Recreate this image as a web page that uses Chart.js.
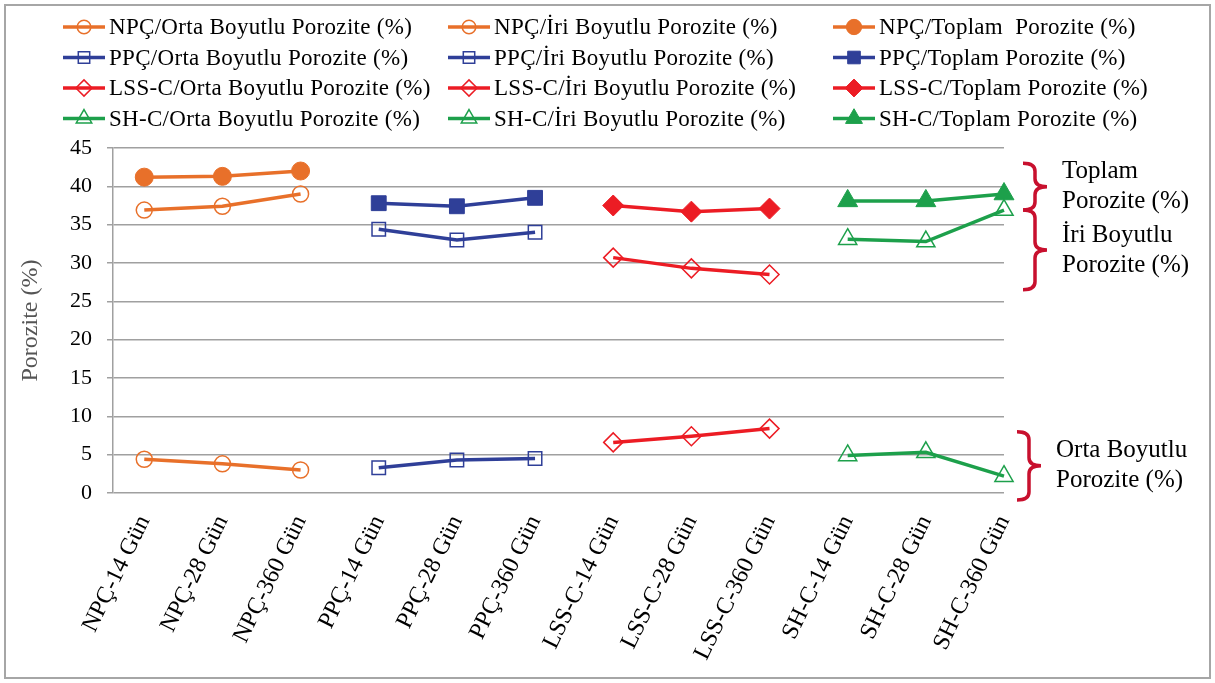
<!DOCTYPE html>
<html lang="tr">
<head>
  <meta charset="UTF-8">
  <title>Porozite</title>
  <script src="https://cdn.jsdelivr.net/npm/chart.js"></script>
  <style>
    html, body { margin: 0; padding: 0; background: #fff; }
    #frame {
      position: absolute; left: 4px; top: 4px;
      width: 1207px; height: 675px;
      border: 2px solid #a6a6a6; box-sizing: border-box;
    }
    canvas { display: block; }
  </style>
</head>
<body>
  <div id="frame"><canvas id="poroChart"></canvas></div>

  <script>
    const categories = [
      'NPÇ-14 Gün', 'NPÇ-28 Gün', 'NPÇ-360 Gün',
      'PPÇ-14 Gün', 'PPÇ-28 Gün', 'PPÇ-360 Gün',
      'LSS-C-14 Gün', 'LSS-C-28 Gün', 'LSS-C-360 Gün',
      'SH-C-14 Gün', 'SH-C-28 Gün', 'SH-C-360 Gün'
    ];
    const yTicks = [0, 5, 10, 15, 20, 25, 30, 35, 40, 45];

    // values per mix (14, 28, 360 gün)
    const npcOrta = [4.4, 3.8, 3.0];
    const npcIri = [36.9, 37.4, 39.0];
    const npcToplam = [41.2, 41.3, 42.0];
    const ppcOrta = [3.3, 4.3, 4.5];
    const ppcIri = [34.4, 33.0, 34.0];
    const ppcToplam = [37.8, 37.4, 38.5];
    const lssOrta = [6.6, 7.4, 8.4];
    const lssIri = [30.7, 29.3, 28.5];
    const lssToplam = [37.5, 36.7, 37.1];
    const shOrta = [4.9, 5.3, 2.2];
    const shIri = [33.1, 32.8, 36.9];
    const shToplam = [38.1, 38.1, 39.0];

    const groups = [
      { name: 'NPÇ', color: '#e8702a', style: 'circle', series: [npcOrta, npcIri, npcToplam] },
      { name: 'PPÇ', color: '#2f3f98', style: 'rect', series: [ppcOrta, ppcIri, ppcToplam] },
      { name: 'LSS-C', color: '#ec1c24', style: 'rectRot', series: [lssOrta, lssIri, lssToplam] },
      { name: 'SH-C', color: '#1da04b', style: 'triangle', series: [shOrta, shIri, shToplam] }
    ];
    const seriesNames = ['Orta Boyutlu Porozite (%)', 'İri Boyutlu Porozite (%)', 'Toplam Porozite (%)'];

    // bracket notes on the right
    const notes = [
      { from: 43.0, to: 36.9, lines: ['Toplam', 'Porozite (%)'] },
      { from: 36.9, to: 26.5, lines: ['İri Boyutlu', 'Porozite (%)'] },
      { from: 8.0, to: -0.9, lines: ['Orta Boyutlu', 'Porozite (%)'] }
    ];

    const radii = { circle: 8, rect: 9.5, rectRot: 9.5, triangle: 10.5 };

    const datasets = [];
    groups.forEach((g, gi) => {
      g.series.forEach((vals, si) => {
        const filled = si === 2;
        let label = g.name + '/' + seriesNames[si];
        if (gi === 0 && si === 2) label = 'NPÇ/Toplam  Porozite (%)';
        datasets.push({
          label: label,
          data: vals.map((v, k) => ({ x: gi * 3 + k, y: v })),
          borderColor: g.color,
          borderWidth: 3.5,
          pointStyle: g.style,
          pointRadius: filled ? radii[g.style] + 1 : radii[g.style],
          pointBorderWidth: filled ? 1 : 1.5,
          pointBorderColor: g.color,
          pointBackgroundColor: filled ? g.color : 'rgba(0,0,0,0)',
          tension: 0,
          clip: false
        });
      });
    });

    const legendGrid = {
      id: 'legendGrid',
      afterDraw(chart) {
        const ctx = chart.ctx;
        const colX = [57, 442, 827];
        chart.data.datasets.forEach((ds, i) => {
          const x = colX[i % 3];
          const y = 21 + Math.floor(i / 3) * 30.5;
          ctx.save();
          ctx.strokeStyle = ds.borderColor;
          ctx.lineWidth = 3.5;
          ctx.beginPath();
          ctx.moveTo(x, y);
          ctx.lineTo(x + 42, y);
          ctx.stroke();
          ctx.lineWidth = ds.pointBorderWidth;
          ctx.fillStyle = ds.pointBackgroundColor;
          Chart.helpers.drawPoint(ctx, {
            pointStyle: ds.pointStyle,
            radius: ds.pointRadius * 0.85,
            rotation: 0,
            borderWidth: ds.pointBorderWidth
          }, x + 21, y);
          ctx.fillStyle = '#000';
          ctx.font = '23px "Liberation Serif"';
          ctx.textBaseline = 'middle';
          ctx.letterSpacing = '0.3px';
          ctx.fillText(ds.label, x + 46, y + 1);
          ctx.restore();
        });
      }
    };

    const brackets = {
      id: 'brackets',
      afterDraw(chart) {
        const ctx = chart.ctx;
        const ys = chart.scales.y;
        notes.forEach((n, i) => {
          const top = ys.getPixelForValue(n.from);
          const bot = ys.getPixelForValue(n.to);
          const mid = (top + bot) / 2;
          const shift = i === 2 ? -6 : 0;
          const x0 = 1017 + shift, x1 = 1029 + shift, x2 = 1041 + shift;
          const r = 8;
          ctx.save();
          ctx.strokeStyle = '#c8102e';
          ctx.lineWidth = 3.5;
          ctx.beginPath();
          ctx.moveTo(x0, top);
          ctx.quadraticCurveTo(x1, top, x1, top + r);
          ctx.lineTo(x1, mid - r);
          ctx.quadraticCurveTo(x1, mid, x2, mid);
          ctx.quadraticCurveTo(x1, mid, x1, mid + r);
          ctx.lineTo(x1, bot - r);
          ctx.quadraticCurveTo(x1, bot, x0, bot);
          ctx.stroke();
          ctx.fillStyle = '#000';
          ctx.font = '25px "Liberation Serif"';
          ctx.textBaseline = 'middle';
          ctx.textAlign = 'left';
          ctx.fillText(n.lines[0], x2 + 15, mid - 15);
          ctx.fillText(n.lines[1], x2 + 15, mid + 15);
          ctx.restore();
        });
      }
    };

    const ctx = document.getElementById('poroChart').getContext('2d');
    const chart = new Chart(ctx, {
      type: 'line',
      data: { datasets: datasets },
      plugins: [legendGrid, brackets],
      options: {
        responsive: true,
        maintainAspectRatio: false,
        animation: false,
        layout: { padding: { left: 10, top: 142, right: 205, bottom: 0 } },
        plugins: { legend: { display: false }, tooltip: { enabled: false } },
        scales: {
          x: {
            type: 'linear',
            min: -0.4,
            max: 11,
            afterBuildTicks: (axis) => { axis.ticks = categories.map((c, i) => ({ value: i })); },
            afterFit: (axis) => { axis.height = 184; },
            grid: { display: false },
            border: { display: false },
            ticks: {
              autoSkip: false,
              minRotation: 64,
              maxRotation: 64,
              padding: 10,
              color: '#000',
              font: { family: 'Liberation Serif', size: 24 },
              callback: (v) => categories[v]
            }
          },
          y: {
            min: 0,
            max: 45,
            afterBuildTicks: (axis) => { axis.ticks = yTicks.map(v => ({ value: v })); },
            afterFit: (axis) => { axis.width = 97; },
            grid: { color: '#a0a0a0', lineWidth: 1.5, tickLength: 6 },
            border: { display: true, color: '#a0a0a0', width: 1.5 },
            ticks: {
              padding: 15,
              color: '#000',
              font: { family: 'Liberation Serif', size: 22 }
            },
            title: {
              display: true,
              text: 'Porozite (%)',
              color: '#555',
              padding: 0,
              font: { family: 'Liberation Serif', size: 24 }
            }
          }
        }
      }
    });
  </script>
</body>
</html>
